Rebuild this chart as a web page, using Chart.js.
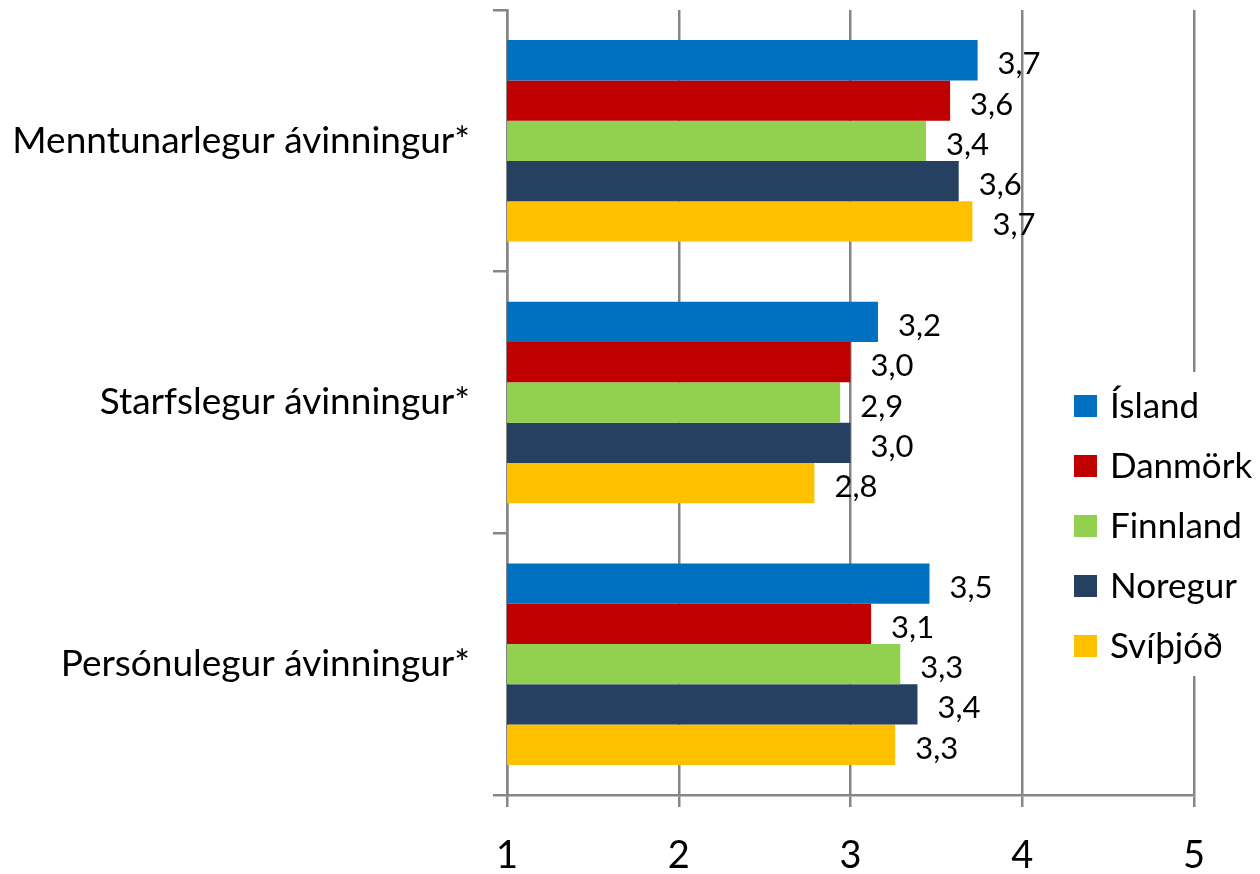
<!DOCTYPE html>
<html>
<head>
<meta charset="utf-8">
<script src="https://cdn.jsdelivr.net/npm/chart.js@4/dist/chart.umd.min.js"></script>
<style>
  html, body { margin: 0; padding: 0; background: #fff; }
  canvas { display: block; }
</style>
</head>
<body>
<canvas id="chart" width="1260" height="874"></canvas>
<script>
'use strict';

const categories = ['Menntunarlegur ávinningur*', 'Starfslegur ávinningur*', 'Persónulegur ávinningur*'];
const seriesNames = ['Ísland', 'Danmörk', 'Finnland', 'Noregur', 'Svíþjóð'];
const islandValues = [3.74, 3.16, 3.46];
const danmorkValues = [3.58, 3.00, 3.12];
const finnlandValues = [3.44, 2.94, 3.29];
const noregurValues = [3.63, 3.00, 3.39];
const svithjodValues = [3.71, 2.79, 3.26];
const xTicks = [1, 2, 3, 4, 5];

const colors = ['#0070C0', '#C00000', '#92D050', '#254061', '#FFC000'];
const FONT = 'Lato, "Open Sans", sans-serif';
const GRID = '#868686';

const allValues = [islandValues, danmorkValues, finnlandValues, noregurValues, svithjodValues];

// Gildi við enda súlna
const valueLabels = {
    id: 'valueLabels',
    afterDatasetsDraw(chart) {
        const ctx = chart.ctx;
        ctx.save();
        ctx.font = '31px ' + FONT;
        ctx.fillStyle = '#000';
        ctx.textAlign = 'left';
        ctx.textBaseline = 'middle';
        chart.data.datasets.forEach((ds, i) => {
            chart.getDatasetMeta(i).data.forEach((bar, j) => {
                const txt = ds.data[j].toFixed(1).replace('.', ',');
                ctx.fillText(txt, bar.x + 20, bar.y + 4);
            });
        });
        ctx.restore();
    }
};

// Skýringar hægra megin
const sideLegend = {
    id: 'sideLegend',
    afterDraw(chart) {
        const ctx = chart.ctx;
        ctx.save();
        ctx.fillStyle = '#fff';
        ctx.fillRect(1058, 372, 202, 304);
        ctx.font = '35px ' + FONT;
        ctx.textAlign = 'left';
        ctx.textBaseline = 'middle';
        chart.data.datasets.forEach((ds, i) => {
            const y = 406 + i * 60;
            ctx.fillStyle = ds.backgroundColor;
            ctx.fillRect(1074, y - 11, 23, 22);
            ctx.fillStyle = '#000';
            ctx.fillText(ds.label, 1110, y + 1);
        });
        ctx.restore();
    }
};

const ctx = document.getElementById('chart').getContext('2d');
new Chart(ctx, {
    type: 'bar',
    data: {
        labels: categories,
        datasets: seriesNames.map((name, i) => ({
            label: name,
            data: allValues[i],
            backgroundColor: colors[i],
            borderWidth: 0,
            categoryPercentage: 0.77,
            barPercentage: 1.0
        }))
    },
    options: {
        indexAxis: 'y',
        responsive: false,
        animation: false,
        layout: { padding: { top: 10, right: 66, bottom: 0, left: 0 } },
        plugins: {
            legend: { display: false },
            tooltip: { enabled: false }
        },
        scales: {
            x: {
                min: 1,
                max: 5,
                afterBuildTicks: scale => { scale.ticks = xTicks.map(v => ({ value: v })); },
                afterFit: scale => { scale.height = 79; },
                ticks: {
                    color: '#000',
                    font: { family: FONT, size: 38 },
                    padding: 26
                },
                grid: { color: GRID, lineWidth: 2.5, tickLength: 12 },
                border: { color: GRID, width: 2.5 }
            },
            y: {
                afterFit: scale => {
                    scale.width = 507;
                    scale.paddingTop = 0;
                    scale.paddingBottom = 0;
                },
                ticks: {
                    color: '#000',
                    font: { family: FONT, size: 37 },
                    padding: 23
                },
                grid: { offset: true, drawOnChartArea: false, color: GRID, lineWidth: 2.5, tickLength: 14 },
                border: { color: GRID, width: 2.5 }
            }
        }
    },
    plugins: [valueLabels, sideLegend]
});
</script>
</body>
</html>
